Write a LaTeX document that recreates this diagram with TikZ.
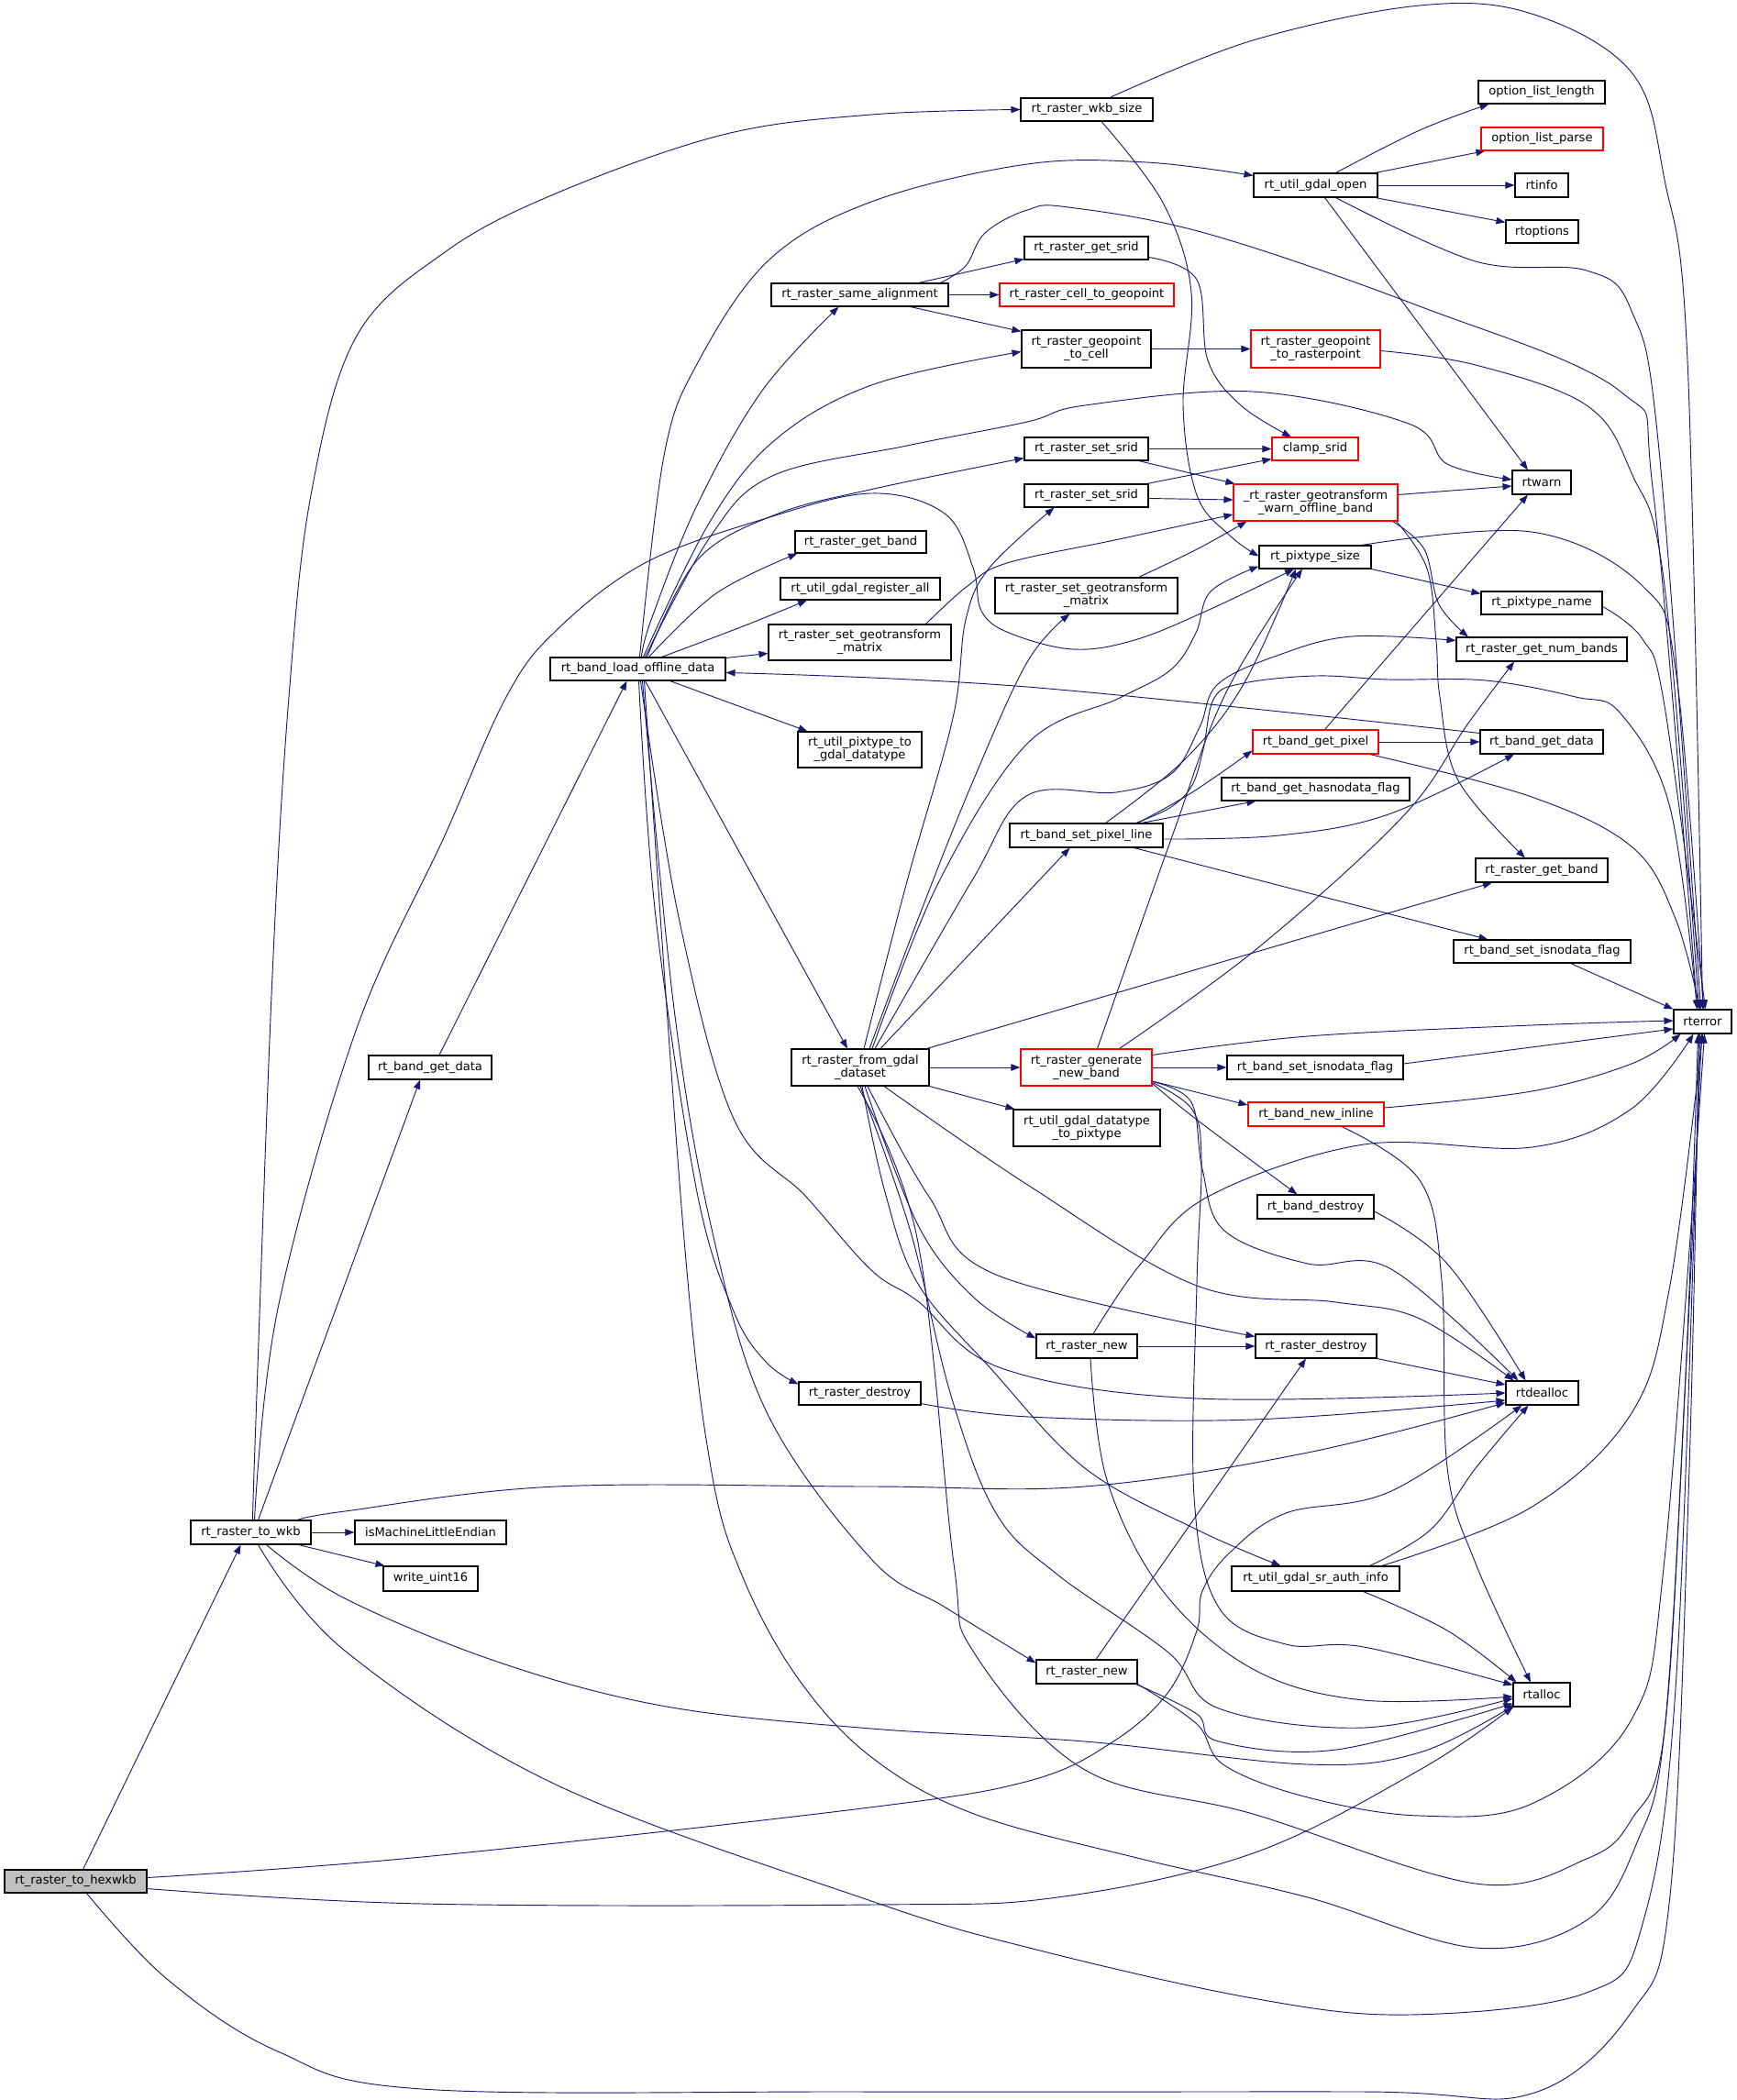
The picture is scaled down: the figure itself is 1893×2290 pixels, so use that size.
\documentclass[tikz,border=0pt]{standalone}
\usepackage{fontspec}
\setmainfont{DejaVu Sans}
\usetikzlibrary{arrows.meta,calc}
\pgfdeclarelayer{bg}
\pgfdeclarelayer{edges}
\pgfsetlayers{bg,edges,main}
\definecolor{edgec}{RGB}{25,25,112}
\definecolor{hexfill}{RGB}{191,191,191}
\tikzset{
  box/.style={draw=black,line width=0.8pt,inner sep=0pt,align=center,fill=white,
    font={\fontsize{9.8pt}{10.5pt}\selectfont}},
  redbox/.style={draw=red},
  e/.style={draw=edgec,line width=0.7pt,-{Triangle[length=7.5pt,width=5.5pt]}},
}
\newcommand\mybox[7][]{%
  \pgfmathsetmacro\bw{(#5-#3)*0.75}%
  \pgfmathsetmacro\bh{(#6-#4)*0.75}%
  \node[box,#1,minimum width=\bw pt,minimum height=\bh pt] (#2) at ({(#3+#5)/2},{(#4+#6)/2}) {#7};}
\newcommand\ed[1]{\draw[e] plot[smooth,tension=0.6] coordinates {#1};}
\begin{document}
\begin{tikzpicture}[x=0.75pt,y=-0.75pt]
\begin{pgfonlayer}{bg}
\fill[white] (0,0) rectangle (1893,2290);
\end{pgfonlayer}
\useasboundingbox (0,0) rectangle (1893,2290);
% ---------- nodes ----------
\mybox[fill=hexfill]{hex}{5}{2039}{160}{2064}{rt\_raster\_to\_hexwkb}
\mybox{wkb}{208}{1658}{339}{1684}{rt\_raster\_to\_wkb}
\mybox{ile}{387}{1658}{552}{1684}{isMachineLittleEndian}
\mybox{wu}{418}{1708}{521}{1735}{write\_uint16}
\mybox{bgdA}{402}{1151}{536}{1177}{rt\_band\_get\_data}
\mybox{lbo}{600}{717}{791}{742}{rt\_band\_load\_offline\_data}
\mybox{wks}{1113}{107}{1257}{132}{rt\_raster\_wkb\_size}
\mybox{ugo}{1367}{189}{1502}{215}{rt\_util\_gdal\_open}
\mybox{oll}{1612}{88}{1750}{113}{option\_list\_length}
\mybox[redbox]{olp}{1615}{139}{1748}{164}{option\_list\_parse}
\mybox{rinfo}{1652}{189}{1710}{215}{rtinfo}
\mybox{ropt}{1642}{240}{1721}{265}{rtoptions}
\mybox{rsa}{841}{309}{1034}{334}{rt\_raster\_same\_alignment}
\mybox{rgs}{1117}{258}{1252}{283}{rt\_raster\_get\_srid}
\mybox[redbox]{rctg}{1090}{309}{1280}{334}{rt\_raster\_cell\_to\_geopoint}
\mybox{rgtc}{1114}{360}{1255}{401}{rt\_raster\_geopoint\\\_to\_cell}
\mybox[redbox]{rgtr}{1364}{360}{1505}{401}{rt\_raster\_geopoint\\\_to\_rasterpoint}
\mybox[redbox]{clamp}{1387}{477}{1481}{502}{clamp\_srid}
\mybox{rssA}{1117}{477}{1252}{502}{rt\_raster\_set\_srid}
\mybox{rtwarn}{1649}{513}{1713}{539}{rtwarn}
\mybox{rssB}{1117}{528}{1252}{553}{rt\_raster\_set\_srid}
\mybox[redbox]{rgwo}{1345}{528}{1524}{568}{\_rt\_raster\_geotransform\\\_warn\_offline\_band}
\mybox{rgbA}{867}{579}{1010}{603}{rt\_raster\_get\_band}
\mybox{pts}{1373}{595}{1495}{620}{rt\_pixtype\_size}
\mybox{ugra}{851}{630}{1025}{654}{rt\_util\_gdal\_register\_all}
\mybox{rsgmB}{1085}{630}{1284}{669}{rt\_raster\_set\_geotransform\\\_matrix}
\mybox{ptn}{1615}{645}{1747}{670}{rt\_pixtype\_name}
\mybox{rsgmA}{838}{681}{1037}{720}{rt\_raster\_set\_geotransform\\\_matrix}
\mybox{nbands}{1588}{695}{1774}{721}{rt\_raster\_get\_num\_bands}
\mybox{uptg}{870}{798}{1005}{837}{rt\_util\_pixtype\_to\\\_gdal\_datatype}
\mybox[redbox]{bgp}{1366}{796}{1503}{822}{rt\_band\_get\_pixel}
\mybox{bgdB}{1614}{796}{1748}{822}{rt\_band\_get\_data}
\mybox{bghf}{1332}{848}{1537}{873}{rt\_band\_get\_hasnodata\_flag}
\mybox{bspl}{1101}{898}{1268}{924}{rt\_band\_set\_pixel\_line}
\mybox{rgbB}{1609}{936}{1753}{962}{rt\_raster\_get\_band}
\mybox{bsifA}{1585}{1025}{1778}{1050}{rt\_band\_set\_isnodata\_flag}
\mybox{rterror}{1825}{1101}{1888}{1127}{rterror}
\mybox{fgd}{863}{1144}{1013}{1184}{rt\_raster\_from\_gdal\\\_dataset}
\mybox[redbox]{gnb}{1113}{1144}{1256}{1184}{rt\_raster\_generate\\\_new\_band}
\mybox{bsifB}{1338}{1151}{1530}{1177}{rt\_band\_set\_isnodata\_flag}
\mybox[redbox]{bni}{1361}{1202}{1509}{1228}{rt\_band\_new\_inline}
\mybox{ugdp}{1105}{1210}{1265}{1250}{rt\_util\_gdal\_datatype\\\_to\_pixtype}
\mybox{bdes}{1371}{1303}{1498}{1329}{rt\_band\_destroy}
\mybox{rnA}{1130}{1455}{1240}{1481}{rt\_raster\_new}
\mybox{rdB}{1369}{1455}{1501}{1481}{rt\_raster\_destroy}
\mybox{rdA}{871}{1507}{1004}{1532}{rt\_raster\_destroy}
\mybox{rtdealloc}{1642}{1506}{1721}{1532}{rtdealloc}
\mybox{ugsa}{1343}{1708}{1526}{1735}{rt\_util\_gdal\_sr\_auth\_info}
\mybox{rnB}{1130}{1810}{1240}{1836}{rt\_raster\_new}
\mybox{rtalloc}{1650}{1835}{1712}{1861}{rtalloc}
% ---------- edges ----------
\begin{pgfonlayer}{edges}
% hex
\draw[e] ($(hex.north)+(8,0)$) -- ($(wkb.south)+(-11,0)$);
\ed{($(hex.east)+(0,-4)$) (460,2025) (940,1972) (1122,1942) (1214,1899) (1274,1845) (1305,1778) (1311,1735) (1341,1693) (1402,1650) (1517,1626) ($(rtdealloc.south west)+(18,0)$)}
\ed{($(hex.east)+(0,8)$) (460,2076) (950,2077) (1153,2069) (1366,2021) (1548,1930) (rtalloc.south west)}
\ed{($(hex.south)+(12,0)$) (182,2158) (303,2237) (460,2278) (940,2281) (1487,2281) (1670,2283) (1779,2194) (1821,2067) (1842,1600) ($(rterror.south)+(-4,0)$)}
% wkb
\ed{($(wkb.north)+(2,0)$) (279,1548) (297,1063) (315,760) (339,540) (388,368) (485,275) (606,211) (788,147) (950,125) (wks.west)}
\ed{($(wkb.north)+(4,0)$) (303,1427) (388,1124) (485,911) (552,760) (606,688) (703,614) (836,565) (950,538) (1030,560) (1061,619) (1070,666) (1100,690) (1170,708) (1237,698) (1316,666) ($(pts.south)+(-23,0)$)}
\draw[e] ($(wkb.north)+(8,0)$) -- ($(bgdA.south)+(-11,0)$);
\draw[e] (wkb.east) -- (ile.west);
\draw[e] ($(wkb.south east)+(-14,0)$) -- ($(wu.north west)+(2,0)$);
\ed{($(wkb.north east)+(-15,0)$) (376,1648) (606,1621) (950,1621) (1183,1621) (1426,1584) ($(rtdealloc.south west)+(0,-3)$)}
\ed{($(wkb.south)+(17,0)$) (376,1743) (545,1813) (727,1861) (950,1885) (1183,1899) (1426,1924) (1548,1911) ($(rtalloc.south west)+(3,-3)$)}
\ed{($(wkb.south)+(8,0)$) (376,1800) (606,1946) (950,2073) (1122,2124) (1366,2179) (1536,2197) (1730,2173) (1791,2098) (1828,1826) ($(rterror.south)+(-3,0)$)}
\draw[e] ($(bgdA.north)+(10,0)$) -- ($(lbo.south)+(-12,0)$);
% lbo
\ed{($(lbo.north)+(2,0)$) (724,497) (760,397) (839,283) (953,219) (1120,179) (1250,177) ($(ugo.north west)+(0,3)$)}
\ed{($(lbo.north)+(4,0)$) (710,676) (760,551) (831,426) ($(rsa.south)+(-23,0)$)}
\ed{($(lbo.north)+(6,0)$) (774,569) (846,479) (953,419) ($(rgtc.west)+(0,3)$)}
\ed{($(lbo.north)+(8,0)$) (774,586) (842,519) (989,486) (1120,460) (1183,442) (1366,427) (1536,462) (1578,506) ($(rtwarn.west)+(0,-3)$)}
\ed{($(lbo.north)+(10,0)$) (760,611) (846,561) (953,533) ($(rssA.south west)+(0,-3)$)}
\ed{($(lbo.north)+(12,0)$) (781,647) ($(rgbA.south west)+(3,0)$)}
\ed{($(lbo.north)+(26,0)$) (810,683) ($(ugra.south)+(-58,0)$)}
\draw[e] ($(lbo.north east)+(0,1)$) -- ($(rsgmA.west)+(0,12)$);
\draw[e] ($(lbo.south)+(35,0)$) -- ($(uptg.north)+(-57,0)$);
\draw[e] ($(lbo.south)+(8,0)$) -- ($(fgd.north)+(-14,0)$);
\ed{($(lbo.south)+(1,0)$) (715,1000) (760,1300) (800,1430) (835,1485) ($(rdA.north west)+(0,3)$)}
\ed{($(lbo.south)+(3,0)$) (740,1000) (800,1220) (879,1305) (950,1385) (1001,1419) (1092,1492) (1305,1525) (rtdealloc.west)}
\ed{($(lbo.south)+(5,0)$) (735,1100) (776,1340) (836,1540) (950,1700) (1031,1753) ($(rnB.north west)+(0,4)$)}
\ed{($(lbo.south)+(7,0)$) (745,1340) (775,1600) (810,1720) (870,1830) (950,1916) (1062,1978) (1244,2027) (1426,2069) (1609,2124) (1730,2094) (1785,2009) (1815,1887) (1838,1500) ($(rterror.south)+(-5,0)$)}
% fgd
\ed{($(fgd.north)+(4,0)$) (989,961) (1039,783) (1053,676) (1079,619) ($(rssB.south)+(-35,0)$)}
\ed{($(fgd.north)+(10,0)$) (1003,997) (1060,854) (1120,722) ($(rsgmB.south)+(-18,0)$)}
\ed{($(fgd.north)+(13,0)$) (1024,961) (1120,811) (1221,761) (1277,730) (1304,690) (1320,645) ($(pts.south west)+(0,-3)$)}
\ed{($(fgd.north)+(16,0)$) (1060,960) (1119,868) (1217,864) (1277,844) (1308,793) (1328,746) (1395,714) (1474,694) ($(nbands.north west)+(0,4)$)}
\draw[e] ($(fgd.north)+(22,0)$) -- ($(bspl.south)+(-18,0)$);
\draw[e] ($(fgd.north east)+(-3,0)$) -- ($(rgbB.south)+(-54,0)$);
\draw[e] (fgd.east) -- (gnb.west);
\draw[e] (fgd.south east) -- ($(ugdp.north west)+(2,0)$);
\ed{($(fgd.south)+(26,0)$) (1122,1293) (1305,1402) (1457,1420) (1548,1438) ($(rtdealloc.north west)+(9,0)$)}
\ed{($(fgd.south)+(8,0)$) (1013,1305) (1086,1390) ($(rdB.north west)+(0,3)$)}
\ed{($(fgd.south)+(5,0)$) (1001,1336) (1062,1415) ($(rnA.north west)+(0,5)$)}
\ed{($(fgd.south)+(2,0)$) (965,1300) (1001,1400) (1080,1492) (1183,1601) (1305,1668) ($(ugsa.north)+(-38,0)$)}
\ed{(fgd.south) (992,1340) (1037,1522) (1086,1650) (1153,1717) (1274,1802) (1329,1863) (1487,1884) ($(rtalloc.west)+(0,4)$)}
\ed{($(fgd.south)+(-3,0)$) (1000,1350) (1040,1705) (1062,1802) (1183,1930) (1366,1978) (1609,2054) (1730,2027) (1779,1984) (1815,1887) (1838,1500) ($(rterror.south)+(-1,0)$)}
% gnb
\draw[e] (gnb.east) -- (bsifB.west);
\draw[e] ($(gnb.east)+(0,15)$) -- ($(bni.west)+(0,-10)$);
\ed{($(gnb.south east)+(0,-3)$) (1305,1221) ($(bdes.north)+(-20,0)$)}
\ed{($(gnb.north east)+(0,7)$) (1426,1130) (1670,1118) ($(rterror.west)+(0,-1)$)}
\ed{($(gnb.south east)+(0,-5)$) (1299,1202) (1311,1275) (1335,1342) (1426,1378) (1517,1384) ($(rtdealloc.north west)+(14,0)$)}
\ed{($(gnb.south east)+(0,-4)$) (1300,1210) (1310,1265) (1305,1400) (1302,1632) (1329,1753) (1402,1793) (1487,1796) ($(rtalloc.north west)+(0,3)$)}
\ed{($(gnb.north)+(36,0)$) (1370,1035) (1530,890) (1600,790) ($(nbands.south)+(-30,0)$)}
\ed{($(gnb.north)+(12,0)$) (1277,915) (1336,757) ($(pts.south)+(-14,0)$)}
% bspl
\ed{($(bspl.north)+(56,0)$) (1300,864) ($(bgp.south west)+(0,-4)$)}
\draw[e] ($(bspl.north)+(60,0)$) -- ($(bghf.south west)+(38,0)$);
\ed{($(bspl.east)+(0,4)$) (1395,911) (1514,888) ($(bgdB.south)+(-30,0)$)}
\draw[e] ($(bspl.south)+(52,0)$) -- ($(bsifA.north west)+(38,0)$);
\ed{($(bspl.north)+(21,0)$) (1292,828) (1356,746) ($(pts.south)+(-21,0)$)}
\ed{($(bspl.north)+(54,0)$) (1277,880) (1300,856) (1312,817) (1324,761) (1356,745) (1435,737) (1514,741) (1620,742) (1718,760) (1767,778) (1821,881) ($(rterror.north)+(-6,0)$)}
% bgp, bgdB
\draw[e] (bgp.east) -- (bgdB.west);
\ed{($(bgp.south east)+(-10,0)$) (1670,869) (1780,924) (1827,1002) ($(rterror.north)+(-3,0)$)}
\draw[e] ($(bgp.north)+(10,0)$) -- ($(rtwarn.south)+(-15,0)$);
\ed{($(bgdB.north west)+(0,4)$) (1120,749) ($(lbo.east)+(0,4)$)}
% rgwo
\draw[e] ($(rgwo.north east)+(0,12)$) -- ($(rtwarn.west)+(0,4)$);
\ed{($(rgwo.south east)+(-6,0)$) (1553,599) (1569,659) ($(nbands.north)+(-80,0)$)}
\ed{($(rgwo.south east)+(-2,0)$) (1556,620) (1566,700) (1570,760) (1590,851) ($(rgbB.north)+(-18,0)$)}
% srid / geotransform
\draw[e] (rssA.east) -- (clamp.west);
\draw[e] ($(rssA.south east)+(-11,0)$) -- ($(rgwo.north west)+(2,0)$);
\draw[e] ($(rssB.north east)+(-2,0)$) -- ($(clamp.south west)+(0,-2)$);
\draw[e] ($(rssB.east)+(0,3)$) -- ($(rgwo.west)+(0,-3)$);
\ed{($(rsgmA.north)+(72,0)$) (1055,639) (1098,614) (1220,588) ($(rgwo.west)+(0,13)$)}
\ed{($(rsgmB.north)+(57,0)$) (1305,599) ($(rgwo.south west)+(15,0)$)}
\ed{($(rgs.south east)+(0,-3)$) (1305,305) (1317,393) (1353,442) ($(clamp.north)+(-26,0)$)}
\draw[e] (rgtc.east) -- (rgtr.west);
\ed{($(rgtr.east)+(0,2)$) (1609,398) (1730,442) (1779,516) (1815,639) ($(rterror.north)+(-4,0)$)}
% rsa
\draw[e] ($(rsa.north east)+(-33,0)$) -- ($(rgs.south west)+(0,-1)$);
\draw[e] (rsa.east) -- (rctg.west);
\draw[e] ($(rsa.south east)+(-42,0)$) -- ($(rgtc.north west)+(0,2)$);
\ed{($(rsa.north east)+(-9,0)$) (1053,290) (1074,254) (1120,229) (1165,226) (1317,255) (1548,334) (1767,427) (1803,540) ($(rterror.north)+(-6,0)$)}
% wks
\ed{($(wks.north)+(25,0)$) (1366,44) (1548,6) (1670,15) (1779,79) (1815,196) (1840,393) (rterror.north)}
\ed{($(wks.south)+(16,0)$) (1268,221) (1299,319) (1290,442) (1305,540) (1341,584) ($(pts.west)+(0,-1)$)}
% ugo
\ed{($(ugo.north)+(22,0)$) (1548,142) ($(oll.south west)+(12,0)$)}
\draw[e] ($(ugo.north east)+(-3,0)$) -- ($(olp.south west)+(5,0)$);
\draw[e] (ugo.east) -- (rinfo.west);
\draw[e] ($(ugo.south east)+(-3,0)$) -- ($(ropt.north west)+(0,3)$);
\draw[e] ($(ugo.south)+(10,0)$) -- ($(rtwarn.north)+(-15,0)$);
\ed{($(ugo.south)+(22,0)$) (1609,285) (1730,295) (1779,339) (1809,491) ($(rterror.north)+(-2,0)$)}
% pts, ptn, flags
\ed{($(pts.north east)+(-11,0)$) (1670,580) (1791,639) (1828,737) ($(rterror.north)+(1,0)$)}
\draw[e] (pts.south east) -- ($(ptn.north west)+(0,3)$);
\ed{($(ptn.east)+(0,4)$) (1791,697) (1815,770) ($(rterror.north)+(3,0)$)}
\draw[e] ($(bsifA.south east)+(-66,0)$) -- (rterror.north west);
\draw[e] ($(bsifB.east)+(0,-4)$) -- ($(rterror.west)+(0,8)$);
\ed{($(bni.east)+(0,-7)$) (1670,1190) (1779,1160) ($(rterror.south west)+(8,0)$)}
\ed{($(bni.south)+(28,0)$) (1548,1287) (1572,1396) (1578,1600) (1609,1705) ($(rtalloc.north)+(-12,0)$)}
\ed{($(bdes.east)+(0,5)$) (1578,1378) ($(rtdealloc.north)+(-18,0)$)}
% raster new / destroy
\draw[e] (rnA.east) -- (rdB.west);
\ed{($(rnA.north)+(7,0)$) (1244,1378) (1317,1305) (1487,1248) (1670,1251) (1779,1209) ($(rterror.south)+(-10,0)$)}
\ed{($(rnA.south)+(4,0)$) (1207,1614) (1268,1735) (1366,1820) (1487,1854) ($(rtalloc.west)+(0,2)$)}
\draw[e] (rdB.south east) -- ($(rtdealloc.west)+(0,-9)$);
\ed{($(rdA.south east)+(0,-2)$) (1122,1545) (1366,1548) ($(rtdealloc.west)+(0,8)$)}
\ed{($(ugsa.north east)+(-33,0)$) (1560,1668) (1609,1601) ($(rtdealloc.south)+(-15,0)$)}
\ed{($(ugsa.north east)+(-20,0)$) (1669,1644) (1779,1541) (1821,1401) (rterror.south)}
\ed{($(ugsa.south east)+(-40,0)$) (1578,1778) ($(rtalloc.north west)+(4,0)$)}
\draw[e] ($(rnB.north)+(10,0)$) -- ($(rdB.south)+(-11,0)$);
\ed{($(rnB.south east)+(-2,0)$) (1305,1869) (1329,1899) (1457,1908) ($(rtalloc.south west)+(0,-4)$)}
\ed{(rnB.south east) (1305,1880) (1335,1925) (1426,1960) (1548,1980) (1670,1967) (1779,1875) (1815,1700) ($(rterror.south)+(2,0)$)}
\end{pgfonlayer}
\end{tikzpicture}
\end{document}
